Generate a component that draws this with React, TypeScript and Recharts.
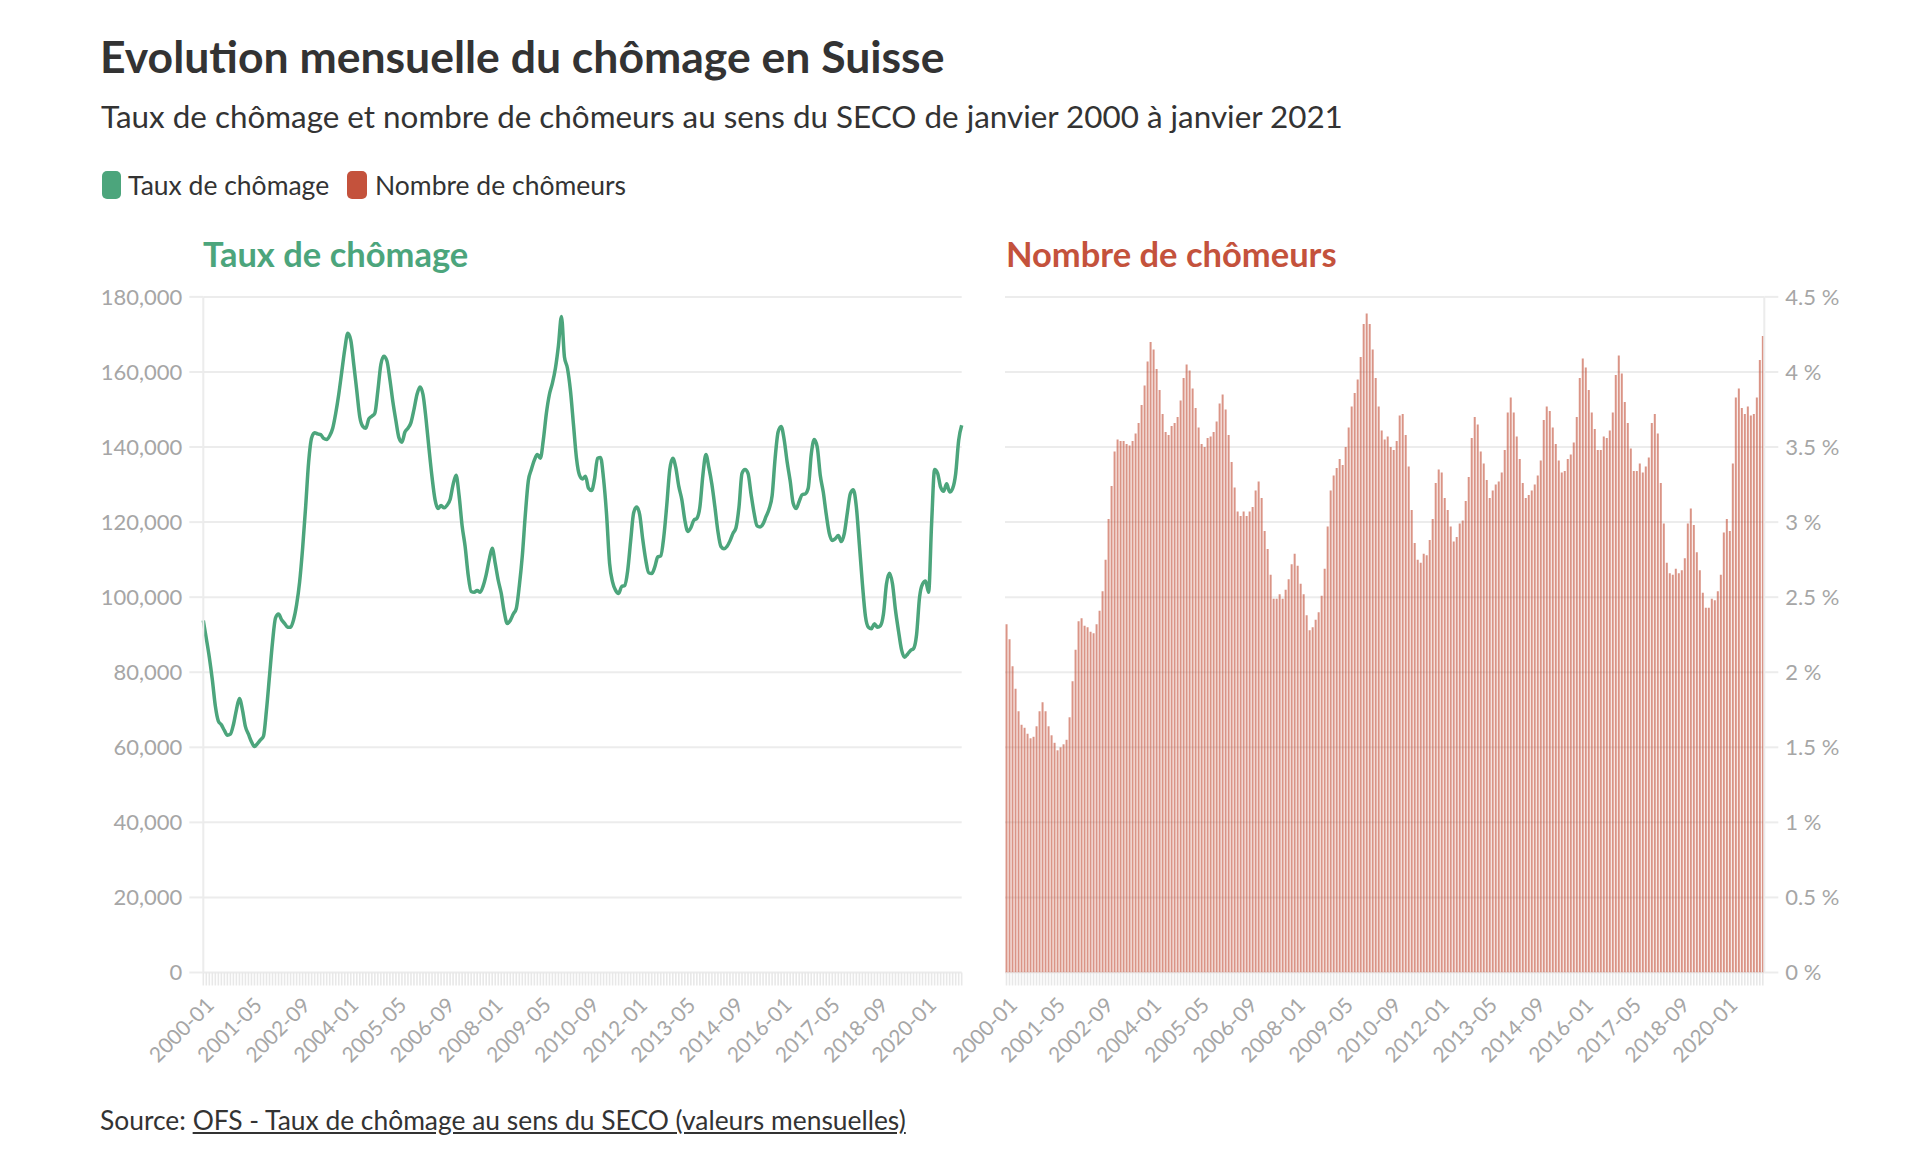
import React from 'react';
import { LineChart, Line, BarChart, Bar, XAxis, YAxis, CartesianGrid } from 'recharts';

const FONT = "Lato, 'Source Sans Pro', sans-serif";

// Categories: monthly, 2000-01 to 2021-01
const START_YEAR = 2000;
const MONTH_COUNT = 253;
const months: string[] = [];
for (let i = 0; i < MONTH_COUNT; i++) {
  const y = START_YEAR + Math.floor(i / 12);
  const m = (i % 12) + 1;
  months.push(`${y}-${String(m).padStart(2, '0')}`);
}

const tickLabels = [
  '2000-01', '2001-05', '2002-09', '2004-01', '2005-05', '2006-09', '2008-01', '2009-05',
  '2010-09', '2012-01', '2013-05', '2014-09', '2016-01', '2017-05', '2018-09', '2020-01',
];
const countTicks = [0, 20000, 40000, 60000, 80000, 100000, 120000, 140000, 160000, 180000];
const rateTicks = [0, 0.5, 1, 1.5, 2, 2.5, 3, 3.5, 4, 4.5];

// Left panel (line): number of unemployed
const chomeurs = [
  93800, 89000, 84000, 78000, 71000, 67000, 66000, 64500, 63200, 63500,
  66000, 70000, 73000, 70000, 65500, 63500, 61500, 60200, 61000, 62000,
  63000, 70000, 79000, 88000, 94500, 95500, 94000, 93000, 92000, 92000,
  94000, 98000, 104000, 113000, 124000, 136000, 142500, 143800, 143500, 143300,
  142300, 142000, 143000, 145000, 149000, 154000, 160000, 166000, 170300, 168500,
  162000, 155000, 148000, 145500, 145000, 147500, 148200, 149000, 155000, 162000,
  164200, 163000, 158000, 152000, 147000, 142500, 141300, 144000, 145000, 146500,
  150000, 154000, 156000, 154000, 147500, 139500, 132000, 126000, 123600, 124400,
  123800, 124500, 126000, 130000, 132500, 127000, 119000, 113500, 106000, 101500,
  101300, 101800, 101300, 103000, 106000, 110000, 113000, 109000, 104500, 101000,
  96000, 93000, 93800, 95500, 97000, 103000, 111000, 122000, 131000, 134000,
  136500, 138000, 137000, 142000, 149000, 154000, 157000, 161000, 167000, 174800,
  164000, 161000, 155000, 146000, 137000, 132500, 131500, 132200, 129000, 128400,
  131500, 137000, 137200, 131500, 122000, 109000, 104000, 101800, 101000, 102800,
  103100, 107000, 115000, 122500, 124000, 122000, 115500, 110000, 106500, 106300,
  108000, 110700, 111000, 116000, 124500, 134000, 137000, 134500, 129500, 126000,
  120500, 117500, 118500, 120500, 121000, 124000, 132500, 138000, 134500, 130000,
  124000, 117500, 113500, 112900, 113500, 115000, 117000, 118500, 124000, 133000,
  134000, 133000, 127500, 122500, 119000, 118700, 119500, 121500, 123500, 127000,
  137000, 144000, 145500, 142000, 136000, 131000, 125000, 123600, 125500, 127300,
  127500, 129000, 138000, 142000, 140000, 132500, 128000, 122000, 117000, 115100,
  115600, 116400, 114800, 117000, 122500, 127600, 128600, 124000, 114000, 103600,
  95000, 92000, 91600, 92900, 92000, 92400, 95500, 103500, 106400, 103600,
  96500, 91000, 86000, 84000, 84800, 85800, 86300, 90000, 100000, 103500,
  104300, 101300, 119600, 134000, 133000, 129300, 128200, 130200, 128000, 129000,
  132900, 141800, 145800,
];

// Right panel (bars): unemployment rate in %
const taux = [
  2.32, 2.22, 2.04, 1.89, 1.74, 1.65, 1.63, 1.59, 1.56, 1.57,
  1.64, 1.74, 1.80, 1.74, 1.64, 1.58, 1.53, 1.48, 1.50, 1.52,
  1.55, 1.70, 1.94, 2.15, 2.34, 2.36, 2.31, 2.30, 2.27, 2.26,
  2.32, 2.41, 2.54, 2.75, 3.02, 3.24, 3.47, 3.55, 3.54, 3.54,
  3.52, 3.51, 3.54, 3.59, 3.66, 3.78, 3.91, 4.07, 4.20, 4.15,
  4.02, 3.88, 3.72, 3.60, 3.58, 3.64, 3.66, 3.70, 3.81, 3.96,
  4.05, 4.01, 3.89, 3.76, 3.63, 3.52, 3.50, 3.56, 3.57, 3.60,
  3.67, 3.79, 3.85, 3.75, 3.58, 3.40, 3.23, 3.07, 3.04, 3.07,
  3.04, 3.07, 3.10, 3.21, 3.27, 3.16, 2.94, 2.82, 2.65, 2.49,
  2.49, 2.52, 2.49, 2.55, 2.62, 2.72, 2.79, 2.71, 2.59, 2.52,
  2.38, 2.28, 2.30, 2.35, 2.40, 2.51, 2.69, 2.97, 3.21, 3.31,
  3.36, 3.42, 3.38, 3.50, 3.63, 3.77, 3.86, 3.95, 4.10, 4.32,
  4.39, 4.32, 4.15, 3.96, 3.77, 3.61, 3.55, 3.57, 3.50, 3.48,
  3.54, 3.71, 3.72, 3.58, 3.37, 3.08, 2.86, 2.75, 2.73, 2.79,
  2.78, 2.88, 3.02, 3.26, 3.35, 3.33, 3.16, 3.08, 2.97, 2.87,
  2.90, 2.99, 3.01, 3.14, 3.30, 3.56, 3.70, 3.65, 3.47, 3.39,
  3.28, 3.16, 3.21, 3.25, 3.27, 3.33, 3.48, 3.73, 3.83, 3.73,
  3.57, 3.42, 3.26, 3.16, 3.18, 3.21, 3.25, 3.31, 3.41, 3.68,
  3.77, 3.74, 3.63, 3.52, 3.41, 3.33, 3.34, 3.42, 3.45, 3.53,
  3.70, 3.96, 4.09, 4.03, 3.88, 3.73, 3.62, 3.48, 3.48, 3.57,
  3.56, 3.61, 3.73, 3.98, 4.11, 3.99, 3.80, 3.66, 3.49, 3.34,
  3.34, 3.39, 3.33, 3.37, 3.43, 3.66, 3.72, 3.59, 3.26, 2.99,
  2.73, 2.66, 2.65, 2.69, 2.66, 2.68, 2.76, 2.99, 3.09, 2.98,
  2.80, 2.68, 2.53, 2.43, 2.43, 2.49, 2.48, 2.54, 2.65, 2.93,
  3.02, 2.94, 3.39, 3.83, 3.89, 3.76, 3.72, 3.77, 3.71, 3.72,
  3.83, 4.08, 4.24,
];

const data = months.map((month, i) => ({ month, chomeurs: chomeurs[i], taux: taux[i] }));

const GREEN = '#4ca57c';
const RED = '#c4523c';
const AXIS_TEXT = '#a6a6a6';
const GRID = '#ececec';

const labelSet = new Set(tickLabels);

const MonthTick = (props: any) => {
  const { x, y, payload } = props;
  if (!payload || !labelSet.has(payload.value)) return <g />;
  const ax = x + 12;
  const ay = y + 21;
  return (
    <text
      x={ax}
      y={ay}
      transform={`rotate(-45 ${ax} ${ay})`}
      textAnchor="end"
      fill={AXIS_TEXT}
      fontSize={21}
      fontFamily={FONT}
    >
      {payload.value}
    </text>
  );
};

const fmtCount = (v: number) => v.toLocaleString('en-US');
const fmtRate = (v: number) => `${v} %`;

const textBase: React.CSSProperties = {
  position: 'absolute',
  fontFamily: FONT,
  lineHeight: 1,
  whiteSpace: 'nowrap',
  margin: 0,
};

export default function App() {
  return (
    <div style={{ position: 'absolute', left: 0, top: 0, width: 1908, height: 1155, background: '#fff', overflow: 'hidden' }}>
      <div style={{ ...textBase, left: 100, top: 34, fontSize: 44.5, fontWeight: 700, color: '#333' }}>
        Evolution mensuelle du chômage en Suisse
      </div>
      <div style={{ ...textBase, left: 101, top: 101, fontSize: 31.4, color: '#333' }}>
        Taux de chômage et nombre de chômeurs au sens du SECO de janvier 2000 à janvier 2021
      </div>

      <div style={{ position: 'absolute', left: 101.5, top: 171, width: 19.5, height: 28, borderRadius: 5, background: GREEN }} />
      <div style={{ ...textBase, left: 128, top: 171.5, fontSize: 26.5, color: '#333' }}>Taux de chômage</div>
      <div style={{ position: 'absolute', left: 347, top: 171, width: 19.5, height: 28, borderRadius: 5, background: RED }} />
      <div style={{ ...textBase, left: 375, top: 171.5, fontSize: 26.5, color: '#333' }}>Nombre de chômeurs</div>

      <div style={{ ...textBase, left: 203, top: 237, fontSize: 34.5, fontWeight: 700, color: GREEN }}>Taux de chômage</div>
      <div style={{ ...textBase, left: 1006, top: 237, fontSize: 34.5, fontWeight: 700, color: RED }}>Nombre de chômeurs</div>

      <div style={{ position: 'absolute', left: 0, top: 0 }}>
        <LineChart
          width={1000}
          height={1100}
          data={data}
          margin={{ top: 296.9, right: 38.3, bottom: 27.5, left: 143.3 }}
        >
          <CartesianGrid vertical={false} stroke={GRID} strokeWidth={2} />
          <XAxis
            dataKey="month"
            interval={0}
            axisLine={false}
            tickLine={{ stroke: '#e8e8e8', strokeWidth: 1.6 }}
            tickSize={13}
            tickMargin={0}
            height={100}
            tick={MonthTick}
          />
          <YAxis
            domain={[0, 180000]}
            ticks={countTicks}
            tickFormatter={fmtCount}
            width={60}
            axisLine={{ stroke: GRID, strokeWidth: 2 }}
            tickLine={{ stroke: GRID, strokeWidth: 2 }}
            tickSize={14}
            tickMargin={7}
            tick={{ fill: AXIS_TEXT, fontSize: 22, fontFamily: FONT }}
          />
          <Line
            type="monotone"
            dataKey="chomeurs"
            stroke={GREEN}
            strokeWidth={3.5}
            dot={false}
            activeDot={false}
            isAnimationActive={false}
          />
        </LineChart>
      </div>

      <div style={{ position: 'absolute', left: 900, top: 0 }}>
        <BarChart
          width={1000}
          height={1100}
          data={data}
          margin={{ top: 296.9, right: 45.7, bottom: 27.5, left: 105 }}
          barCategoryGap="18%"
        >
          <CartesianGrid vertical={false} stroke={GRID} strokeWidth={2} />
          <XAxis
            dataKey="month"
            interval={0}
            axisLine={false}
            tickLine={{ stroke: '#e8e8e8', strokeWidth: 1.6 }}
            tickSize={13}
            tickMargin={0}
            height={100}
            tick={MonthTick}
          />
          <YAxis
            orientation="right"
            domain={[0, 4.5]}
            ticks={rateTicks}
            tickFormatter={fmtRate}
            width={90}
            axisLine={{ stroke: GRID, strokeWidth: 2 }}
            tickLine={{ stroke: GRID, strokeWidth: 2 }}
            tickSize={14}
            tickMargin={7}
            tick={{ fill: AXIS_TEXT, fontSize: 22, fontFamily: FONT, textAnchor: 'start' }}
          />
          <Bar dataKey="taux" fill={RED} fillOpacity={0.62} isAnimationActive={false} />
        </BarChart>
      </div>

      <div style={{ ...textBase, left: 100, top: 1107, fontSize: 26.4, color: '#333' }}>
        Source: <span style={{ textDecoration: 'underline' }}>OFS - Taux de chômage au sens du SECO (valeurs mensuelles)</span>
      </div>
    </div>
  );
}
